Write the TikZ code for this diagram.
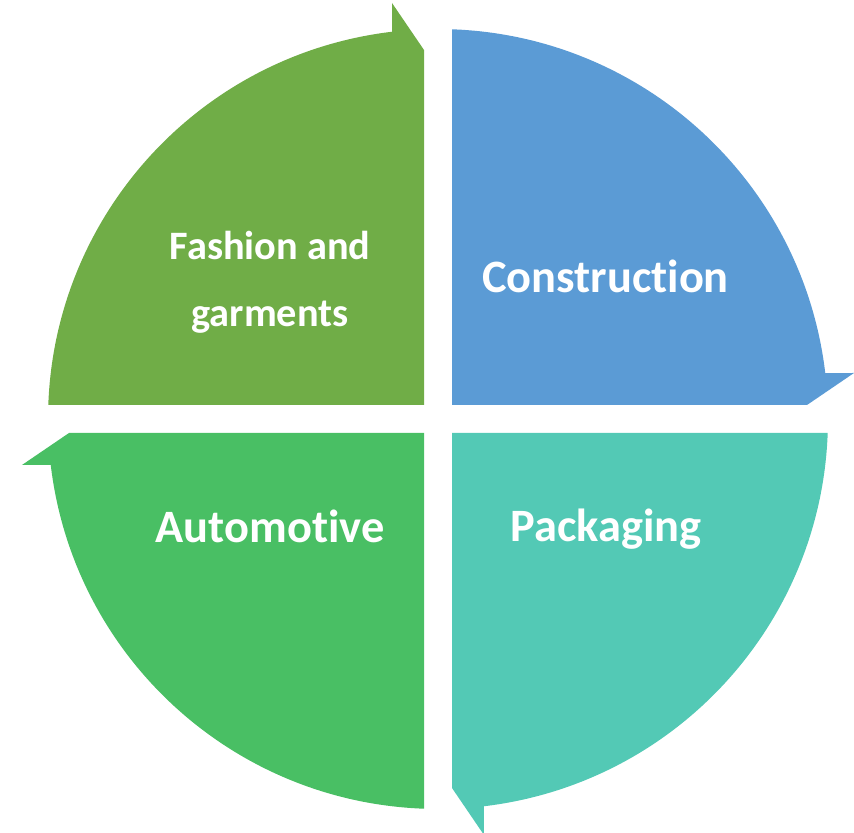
\documentclass[tikz,border=0pt]{standalone}
\usepackage{fontspec}
\setmainfont{Carlito}[Ligatures=NoCommon]

\definecolor{fashiongreen}{HTML}{70AD47}
\definecolor{constructionblue}{HTML}{5B9BD5}
\definecolor{packagingteal}{HTML}{53C9B5}
\definecolor{automotivegreen}{HTML}{49BF64}

\tikzset{
  label text/.style={text=white, font=\bfseries, inner sep=0pt, align=center},
}

\begin{document}
\begin{tikzpicture}[x=0.025cm, y=0.025cm]
% Set the page size (picture is centred on the cross between the pieces)
\useasboundingbox (-438,-414) rectangle (416,419);

% Draw the four pieces, each with its arrow head (clockwise)
\fill[fashiongreen] (-14,14) -- (-389.7,14) arc[start angle=177.94, end angle=96.77, radius=390] -- (-46,416) -- (-14,369) -- cycle;
\fill[constructionblue] (14,14) -- (14,389.7) arc[start angle=87.94, end angle=6.77, radius=390] -- (416,46) -- (369,14) -- cycle;
\fill[packagingteal] (14,-14) -- (389.7,-14) arc[start angle=-2.06, end angle=-83.23, radius=390] -- (46,-416) -- (14,-369) -- cycle;
\fill[automotivegreen] (-14,-14) -- (-14,-389.7) arc[start angle=-92.06, end angle=-173.23, radius=390] -- (-416,-46) -- (-369,-14) -- cycle;

% Insert the labels
\node[label text, font=\fontsize{28.7pt}{47.5pt}\selectfont\bfseries] (fashion) at (-168,137) {Fashion and\\garments};
\node[label text, anchor=base, font=\fontsize{33pt}{40pt}\selectfont\bfseries] (construction) at (167.5,126) {Construction};
\node[label text, anchor=base, font=\fontsize{33pt}{40pt}\selectfont\bfseries] (automotive) at (-168,-124) {Automotive};
\node[label text, anchor=base, font=\fontsize{33pt}{40pt}\selectfont\bfseries] (packaging) at (168,-123) {Packaging};
\end{tikzpicture}
\end{document}
